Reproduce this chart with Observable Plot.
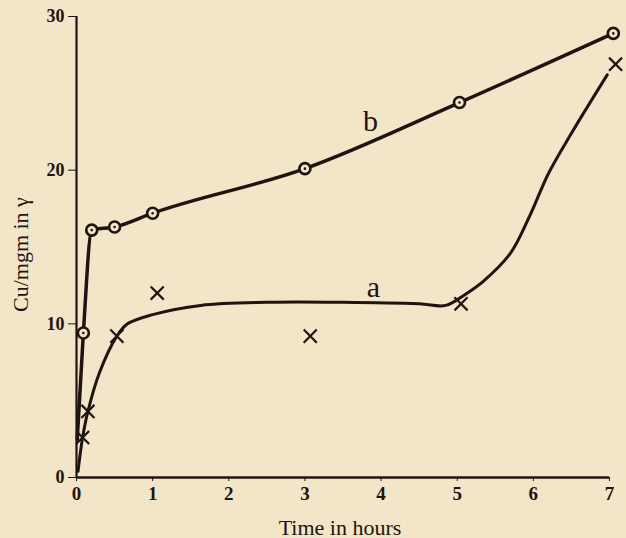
<!DOCTYPE html>
<html>
<head>
<meta charset="utf-8">
<script src="https://cdn.jsdelivr.net/npm/d3@7"></script>
<script src="https://cdn.jsdelivr.net/npm/@observablehq/plot@0.6"></script>
<style>
  html, body { margin: 0; padding: 0; background: #f2e5c8; }
  #chart { width: 626px; height: 538px; }
</style>
</head>
<body>
<div id="chart"></div>
<script>
// Series b: observed points (circles with dot)
const bTime = [0.09, 0.2, 0.5, 1.0, 3.0, 5.03, 7.05];
const bCu   = [9.4, 16.1, 16.3, 17.2, 20.1, 24.4, 28.9];
// Series b drawn curve (start near origin, then through points)
const bCurveTime = [0.01, 0.09, 0.2, 0.5, 1.0, 3.0, 5.03, 7.05];
const bCurveCu   = [2.5, 9.4, 16.1, 16.3, 17.2, 20.1, 24.4, 28.9];

// Series a: observed points (crosses)
const aTime = [0.08, 0.15, 0.53, 1.06, 3.07, 5.05, 7.08];
const aCu   = [2.6, 4.3, 9.2, 12.0, 9.2, 11.3, 26.9];
// Series a drawn (fitted) curve
const aCurveTime = [0.02, 0.08, 0.15, 0.3, 0.53, 0.67, 1.0, 1.63, 2.5, 3.5, 4.5, 4.85, 5.1, 5.35, 5.7, 5.95, 6.2, 6.5, 6.97];
const aCurveCu   = [0.4, 2.6, 4.3, 6.8, 9.2, 10.0, 10.6, 11.2, 11.4, 11.4, 11.3, 11.2, 11.9, 12.8, 14.6, 17.0, 19.8, 22.4, 26.2];

const xTicks = [0, 1, 2, 3, 4, 5, 6, 7];
const yTicks = [0, 10, 20, 30];
const seriesLabels = [
  {t: 3.86, v: 23.2, name: "b"},
  {t: 3.9, v: 12.4, name: "a"}
];

const bg = "#f2e5c8";
const ink = "#1e1410";

const bPts = bTime.map((t, i) => ({t, v: bCu[i]}));
const aPts = aTime.map((t, i) => ({t, v: aCu[i]}));
const bLine = bCurveTime.map((t, i) => ({t, v: bCurveCu[i]}));
const aLine = aCurveTime.map((t, i) => ({t, v: aCurveCu[i]}));

const chart = Plot.plot({
  width: 626,
  height: 538,
  marginLeft: 76,
  marginRight: 17,
  marginTop: 16,
  marginBottom: 61,
  style: {background: bg, color: ink, fontFamily: "'Liberation Serif', 'DejaVu Serif', serif"},
  x: {domain: [0, 7], ticks: xTicks},
  y: {domain: [0, 30], ticks: yTicks},
  marks: [
    Plot.axisX({ticks: xTicks, tickFormat: () => "", tickSize: 4, stroke: ink, label: null}),
    Plot.axisY({ticks: yTicks, tickFormat: () => "", tickSize: 8, stroke: ink, label: null}),
    Plot.text(xTicks, {x: d => d, frameAnchor: "bottom", dy: 22, text: d => String(d), fontSize: 19, fontWeight: "bold", fill: ink}),
    Plot.text(yTicks, {y: d => d, frameAnchor: "left", dx: -12, textAnchor: "end", text: d => String(d), fontSize: 18, fontWeight: "bold", fill: ink}),
    Plot.ruleX([0], {stroke: ink, strokeWidth: 2.2}),
    Plot.ruleY([0], {stroke: ink, strokeWidth: 2.5}),
    Plot.line(aLine, {x: "t", y: "v", curve: "catmull-rom", stroke: ink, strokeWidth: 3}),
    Plot.line(bLine, {x: "t", y: "v", curve: "monotone-x", stroke: ink, strokeWidth: 3.5}),
    Plot.dot(bPts, {x: "t", y: "v", r: 5.5, fill: bg, stroke: ink, strokeWidth: 2.6}),
    Plot.dot(bPts, {x: "t", y: "v", r: 1.3, fill: ink}),
    Plot.dot(aPts, {x: "t", y: "v", symbol: "times", r: 6, stroke: ink, strokeWidth: 2.2}),
    Plot.text(seriesLabels, {x: "t", y: "v", text: "name", fontSize: 30, fill: ink}),
    Plot.text(["Time in hours"], {frameAnchor: "bottom", dx: -3, dy: 57, fontSize: 22, fill: ink}),
    Plot.text(["Cu/mgm in \u03b3"], {frameAnchor: "left", dx: -56, dy: 65, rotate: -90, fontSize: 22, fill: ink})
  ]
});
document.getElementById("chart").appendChild(chart);
</script>
</body>
</html>
